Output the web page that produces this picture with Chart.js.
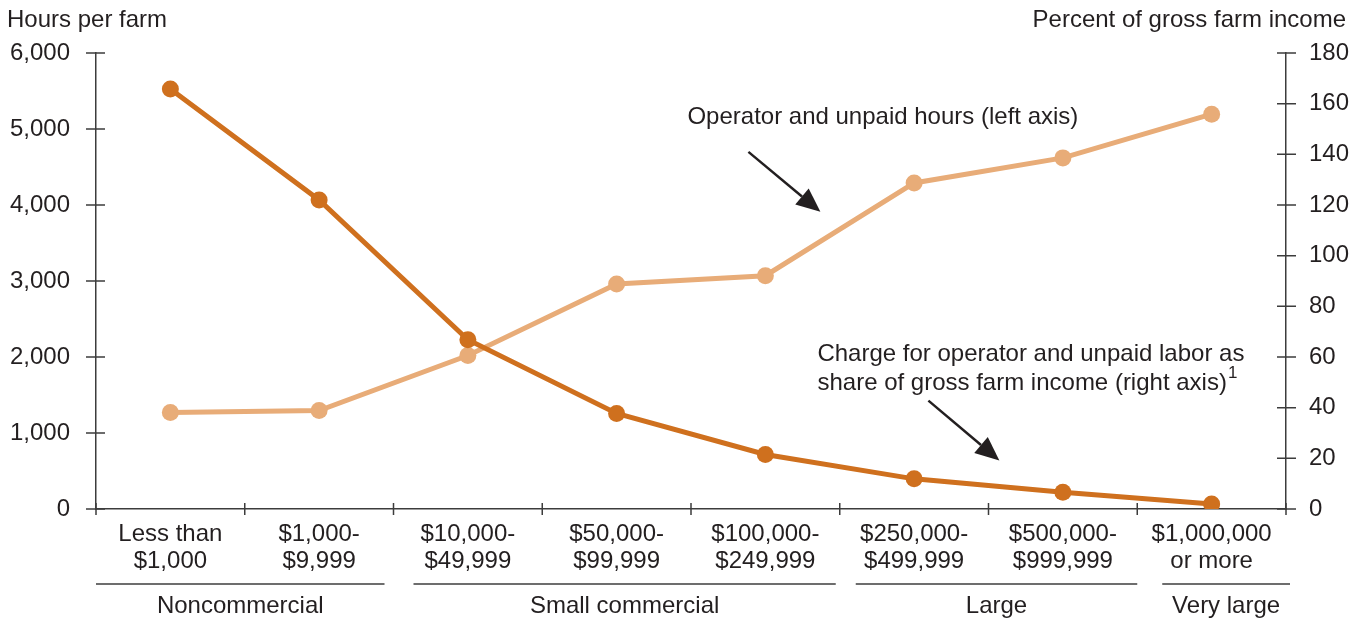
<!DOCTYPE html>
<html>
<head>
<meta charset="utf-8">
<script src="https://cdn.jsdelivr.net/npm/chart.js@4.4.1/dist/chart.umd.min.js"></script>
<style>
    body { margin: 0; background: #fff; }
    #wrap { width: 1361px; height: 619px; position: relative; }
</style>
</head>
<body>
<div id="wrap"><canvas id="js--chart"></canvas></div>
<script>
const categories = [
    ["Less than", "$1,000"],
    ["$1,000-", "$9,999"],
    ["$10,000-", "$49,999"],
    ["$50,000-", "$99,999"],
    ["$100,000-", "$249,999"],
    ["$250,000-", "$499,999"],
    ["$500,000-", "$999,999"],
    ["$1,000,000", "or more"],
];
// hours per farm, left axis
const hours = [1270, 1295, 2020, 2960, 3070, 4290, 4620, 5195];
// charge as percent of gross farm income, right axis
const chargeShare = [165.8, 122, 66.8, 37.7, 21.5, 11.9, 6.6, 2.0];
const leftTicks = [0, 1000, 2000, 3000, 4000, 5000, 6000];
const rightTicks = [0, 20, 40, 60, 80, 100, 120, 140, 160, 180];
const groups = [
    { name: "Noncommercial", from: 0, to: 1 },
    { name: "Small commercial", from: 2, to: 4 },
    { name: "Large", from: 5, to: 6 },
    { name: "Very large", from: 7, to: 7 },
];
// little gaps between the group underlines (px at start / end)
const groupGaps = [[0, -9], [20, -4], [16, 0], [25, 4]];

const DARK = '#CF701E';
const LIGHT = '#E8AC78';
const INK = '#231f20';
const AXIS = '#3c3c3c';
const FONT = '"Liberation Sans", Arial, Helvetica, sans-serif';
const SIZE = 24;

function arrow(ctx, x1, y1, x2, y2) {
    const ang = Math.atan2(y2 - y1, x2 - x1);
    const len = 24, half = 10.5;
    const bx = x2 - len * Math.cos(ang), by = y2 - len * Math.sin(ang);
    ctx.strokeStyle = INK;
    ctx.fillStyle = INK;
    ctx.lineWidth = 2.5;
    ctx.beginPath();
    ctx.moveTo(x1, y1);
    ctx.lineTo(bx, by);
    ctx.stroke();
    ctx.beginPath();
    ctx.moveTo(x2, y2);
    ctx.lineTo(bx + half * Math.sin(ang), by - half * Math.cos(ang));
    ctx.lineTo(bx - half * Math.sin(ang), by + half * Math.cos(ang));
    ctx.closePath();
    ctx.fill();
}

const decorations = {
    id: 'decorations',
    afterDraw(chart) {
        const ctx = chart.ctx;
        const x = chart.scales.x, y = chart.scales.y, y1 = chart.scales.y1;
        const area = chart.chartArea;
        ctx.save();

        // axis ticks that cross the axis lines
        ctx.strokeStyle = AXIS;
        ctx.lineWidth = 1.5;
        ctx.beginPath();
        leftTicks.forEach(v => {
            const py = y.getPixelForValue(v);
            ctx.moveTo(area.left - 10, py);
            ctx.lineTo(area.left + 9, py);
        });
        rightTicks.forEach(v => {
            const py = y1.getPixelForValue(v);
            ctx.moveTo(area.right - 9, py);
            ctx.lineTo(area.right + 10, py);
        });
        const step = x.getPixelForValue(1) - x.getPixelForValue(0);
        for (let i = 0; i <= categories.length; i++) {
            const px = x.getPixelForValue(i) - step / 2;
            ctx.moveTo(px, area.bottom - 6);
            ctx.lineTo(px, area.bottom + 6);
        }
        ctx.stroke();

        // group underlines and names
        ctx.fillStyle = INK;
        ctx.font = SIZE + 'px ' + FONT;
        ctx.textAlign = 'center';
        ctx.textBaseline = 'middle';
        ctx.lineWidth = 1.4;
        groups.forEach((g, i) => {
            const x0 = x.getPixelForValue(g.from) - step / 2 + groupGaps[i][0];
            const x1 = x.getPixelForValue(g.to) + step / 2 + groupGaps[i][1];
            ctx.beginPath();
            ctx.moveTo(x0, 584);
            ctx.lineTo(x1, 584);
            ctx.stroke();
            ctx.fillText(g.name, (x0 + x1) / 2, 606);
        });

        // axis titles
        ctx.textAlign = 'left';
        ctx.fillText("Hours per farm", 7, 20);
        ctx.textAlign = 'right';
        ctx.fillText("Percent of gross farm income", 1346, 20);

        // annotations, placed in data space
        ctx.textAlign = 'left';
        ctx.fillText("Operator and unpaid hours (left axis)",
            x.getPixelForValue(3.476), y.getPixelForValue(5159));
        arrow(ctx, x.getPixelForValue(3.886), y.getPixelForValue(4699),
            x.getPixelForValue(4.37), y.getPixelForValue(3910));

        ctx.fillStyle = INK;
        const tx = x.getPixelForValue(4.35);
        ctx.fillText("Charge for operator and unpaid labor as", tx, y.getPixelForValue(2031));
        const line2 = "share of gross farm income (right axis)";
        const ly = y.getPixelForValue(1650);
        ctx.fillText(line2, tx, ly);
        const w = ctx.measureText(line2).width;
        ctx.font = '17px ' + FONT;
        ctx.fillText("1", tx + w + 1, ly - 10);
        arrow(ctx, x.getPixelForValue(5.096), y.getPixelForValue(1426),
            x.getPixelForValue(5.573), y.getPixelForValue(638));

        ctx.restore();
    }
};

const data = {
    labels: categories,
    datasets: [
        {
            label: "Charge for operator and unpaid labor as share of gross farm income",
            data: chargeShare,
            yAxisID: 'y1',
            borderColor: DARK,
            backgroundColor: DARK,
            borderWidth: 5,
            pointRadius: 8.5,
            pointBorderWidth: 0,
            tension: 0,
        },
        {
            label: "Operator and unpaid hours",
            data: hours,
            yAxisID: 'y',
            borderColor: LIGHT,
            backgroundColor: LIGHT,
            borderWidth: 5,
            pointRadius: 8.5,
            pointBorderWidth: 0,
            tension: 0,
        }
    ]
}

const config = {
    type: 'line',
    data: data,
    options: {
        responsive: true,
        maintainAspectRatio: false,
        animation: false,
        layout: { padding: { top: 53 } },
        plugins: {
            legend: { display: false },
            tooltip: { enabled: false },
        },
        scales: {
            x: {
                offset: true,
                grid: { display: false, drawTicks: false },
                border: { display: true, color: AXIS, width: 1.5 },
                ticks: {
                    color: INK,
                    font: { family: FONT, size: SIZE, lineHeight: 1.13 },
                    padding: 12,
                    maxRotation: 0,
                    autoSkip: false,
                },
                afterFit: (scale) => { scale.height = 110; },
            },
            y: {
                position: 'left',
                min: 0,
                max: 6000,
                grid: { display: false, drawTicks: false },
                border: { display: true, color: AXIS, width: 1.5 },
                ticks: {
                    stepSize: 1000,
                    color: INK,
                    font: { family: FONT, size: SIZE },
                    padding: 26,
                    callback: (v) => v.toLocaleString('en-US'),
                },
                afterFit: (scale) => { scale.width = 96; },
            },
            y1: {
                position: 'right',
                min: 0,
                max: 180,
                grid: { display: false, drawTicks: false },
                border: { display: true, color: AXIS, width: 1.5 },
                ticks: {
                    stepSize: 20,
                    color: INK,
                    font: { family: FONT, size: SIZE },
                    padding: 23,
                },
                afterFit: (scale) => { scale.width = 75; },
            },
        },
    },
    plugins: [decorations],
}

const chart = new Chart(document.getElementById("js--chart"), config);
</script>
</body>
</html>
